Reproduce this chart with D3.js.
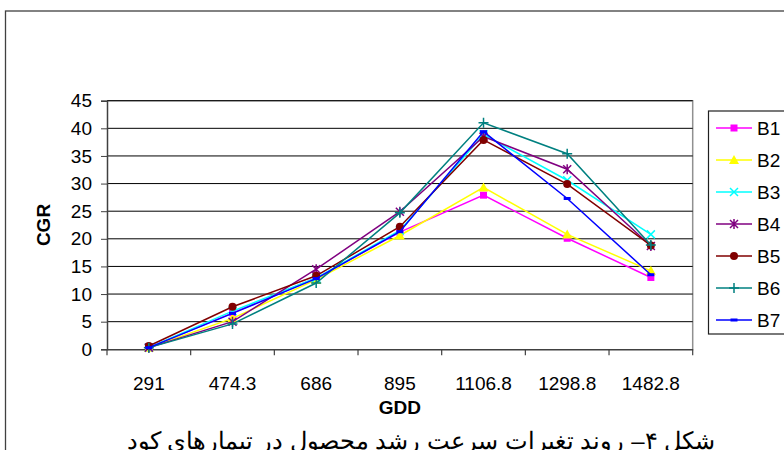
<!DOCTYPE html>
<html><head><meta charset="utf-8">
<script src="https://cdn.jsdelivr.net/npm/d3@7"></script>
<style>
html,body{margin:0;padding:0;background:#fff;}
svg{display:block;}
text{font-family:"Liberation Sans",Arial,sans-serif;}
</style></head><body>
<svg id="c" width="784" height="450"></svg>
<script>
const categories = ["291","474.3","686","895","1106.8","1298.8","1482.8"];
const seriesNames = ["B1","B2","B3","B4","B5","B6","B7"];
const B1 = [0.3, 6.6, 12.9, 21.2, 27.9, 20.1, 13.0];
const B2 = [0.3, 5.6, 12.6, 20.6, 29.3, 20.8, 14.2];
const B3 = [0.3, 6.9, 12.9, 21.5, 38.9, 30.6, 20.8];
const B4 = [0.3, 5.0, 14.5, 24.9, 38.5, 32.6, 18.7];
const B5 = [0.6, 7.7, 13.3, 22.2, 37.9, 29.9, 18.8];
const B6 = [0.3, 4.6, 12.0, 24.7, 41.0, 35.4, 18.9];
const B7 = [0.3, 6.5, 12.8, 21.3, 39.4, 27.3, 13.5];
const yTicks = [0,5,10,15,20,25,30,35,40,45];
const colors = ["#FF00FF","#FFFF00","#00FFFF","#800080","#800000","#008080","#0000FF"];
const markers = ["square","triangle","x","asterisk","circle","plus","dash"];
const seriesData = [B1,B2,B3,B4,B5,B6,B7];
const captionText = "شکل ۴– روند تغیرات سرعت رشد محصول در تیمارهای کود";

const svg = d3.select("#c");
const L = 107, R = 692.7, T = 100.7, B = 349.3;
const FS = 19;
const x = d3.scaleBand().domain(categories).range([L, R]);
const y = d3.scaleLinear().domain([0,45]).range([B, T]);

// outer frame
svg.append("rect").attr("x",5.5).attr("y",11).attr("width",820).attr("height",470)
  .attr("fill","none").attr("stroke","#404040").attr("stroke-width",1.3);

// plot border (right/top gray)
svg.append("path").attr("d",`M${L},${T}H${R}V${B}`).attr("fill","none").attr("stroke","#909090").attr("stroke-width",1.5);

// gridlines
svg.append("g").selectAll("line").data(yTicks.filter(d=>d>0)).join("line")
  .attr("x1",L).attr("x2",R).attr("y1",d=>y(d)).attr("y2",d=>y(d))
  .attr("stroke","#000").attr("stroke-width",1);

// y axis
const ya = svg.append("g").attr("transform",`translate(${L},0)`)
  .call(d3.axisLeft(y).tickValues(yTicks).tickSize(6).tickPadding(9).tickFormat(d3.format("d")));
ya.select(".domain").attr("stroke","#404040").attr("stroke-width",1.5);
ya.selectAll(".tick line").attr("stroke","#404040");
ya.selectAll("text").attr("font-size",FS).attr("fill","#000").attr("font-family","Liberation Sans, Arial, sans-serif");

// x axis
const xa = svg.append("g").attr("transform",`translate(0,${B})`)
  .call(d3.axisBottom(x).tickSize(0).tickPadding(27));
xa.select(".domain").attr("stroke","#404040").attr("stroke-width",1.5);
xa.selectAll("text").attr("font-size",FS).attr("fill","#000").attr("font-family","Liberation Sans, Arial, sans-serif");
const bounds = categories.map(c=>x(c)).concat([x(categories[categories.length-1])+x.bandwidth()]);
svg.append("g").selectAll("line").data(bounds).join("line")
  .attr("x1",d=>d).attr("x2",d=>d).attr("y1",B).attr("y2",B+6).attr("stroke","#404040").attr("stroke-width",1.2);

// axis titles
svg.append("text").attr("transform",`translate(50,${(T+B)/2}) rotate(-90)`).attr("text-anchor","middle")
  .attr("font-size",19).attr("font-weight","bold").text("CGR");
svg.append("text").attr("x",x("895")+x.bandwidth()/2).attr("y",414).attr("text-anchor","middle")
  .attr("font-size",19).attr("font-weight","bold").text("GDD");

function drawMarker(g, type, color, cx, cy){
  if(type==="square") g.append("rect").attr("x",cx-3.5).attr("y",cy-3.5).attr("width",7).attr("height",7).attr("fill",color);
  else if(type==="triangle") g.append("path").attr("d",`M${cx},${cy-5}L${cx+5},${cy+4}L${cx-5},${cy+4}Z`).attr("fill",color);
  else if(type==="x") g.append("path").attr("d",`M${cx-4},${cy-4}L${cx+4},${cy+4}M${cx-4},${cy+4}L${cx+4},${cy-4}`).attr("stroke",color).attr("stroke-width",1.5);
  else if(type==="asterisk") g.append("path").attr("d",`M${cx-4},${cy-4}L${cx+4},${cy+4}M${cx-4},${cy+4}L${cx+4},${cy-4}M${cx},${cy-5}L${cx},${cy+5}`).attr("stroke",color).attr("stroke-width",1.5);
  else if(type==="circle") g.append("circle").attr("cx",cx).attr("cy",cy).attr("r",4).attr("fill",color);
  else if(type==="plus") g.append("path").attr("d",`M${cx-5},${cy}L${cx+5},${cy}M${cx},${cy-5}L${cx},${cy+5}`).attr("stroke",color).attr("stroke-width",1.5);
  else if(type==="dash") g.append("rect").attr("x",cx-3.5).attr("y",cy-1.5).attr("width",7).attr("height",3).attr("fill",color);
}

const line = d3.line().x((d,i)=>x(categories[i])+x.bandwidth()/2).y(d=>y(d));
seriesData.forEach((vals,si)=>{
  const g = svg.append("g");
  g.append("path").attr("d",line(vals)).attr("fill","none").attr("stroke",colors[si]).attr("stroke-width",1.5);
  vals.forEach((v,i)=>drawMarker(g, markers[si], colors[si], x(categories[i])+x.bandwidth()/2, y(v)));
});

// legend
const lg = svg.append("g");
lg.append("rect").attr("x",708.5).attr("y",111).attr("width",100).attr("height",223)
  .attr("fill","#fff").attr("stroke","#202020").attr("stroke-width",1.2);
seriesNames.forEach((n,i)=>{
  const ly = 128 + i*32;
  lg.append("line").attr("x1",716).attr("x2",752).attr("y1",ly).attr("y2",ly).attr("stroke",colors[i]).attr("stroke-width",1.5);
  drawMarker(lg, markers[i], colors[i], 734, ly);
  lg.append("text").attr("x",757).attr("y",ly+7).attr("font-size",FS).text(n);
});

// caption
svg.append("text").attr("x",421).attr("y",449).attr("text-anchor","middle").attr("direction","rtl")
  .attr("font-family","DejaVu Sans, Noto Sans, sans-serif").attr("font-size",24).text(captionText);
</script>
</body></html>
